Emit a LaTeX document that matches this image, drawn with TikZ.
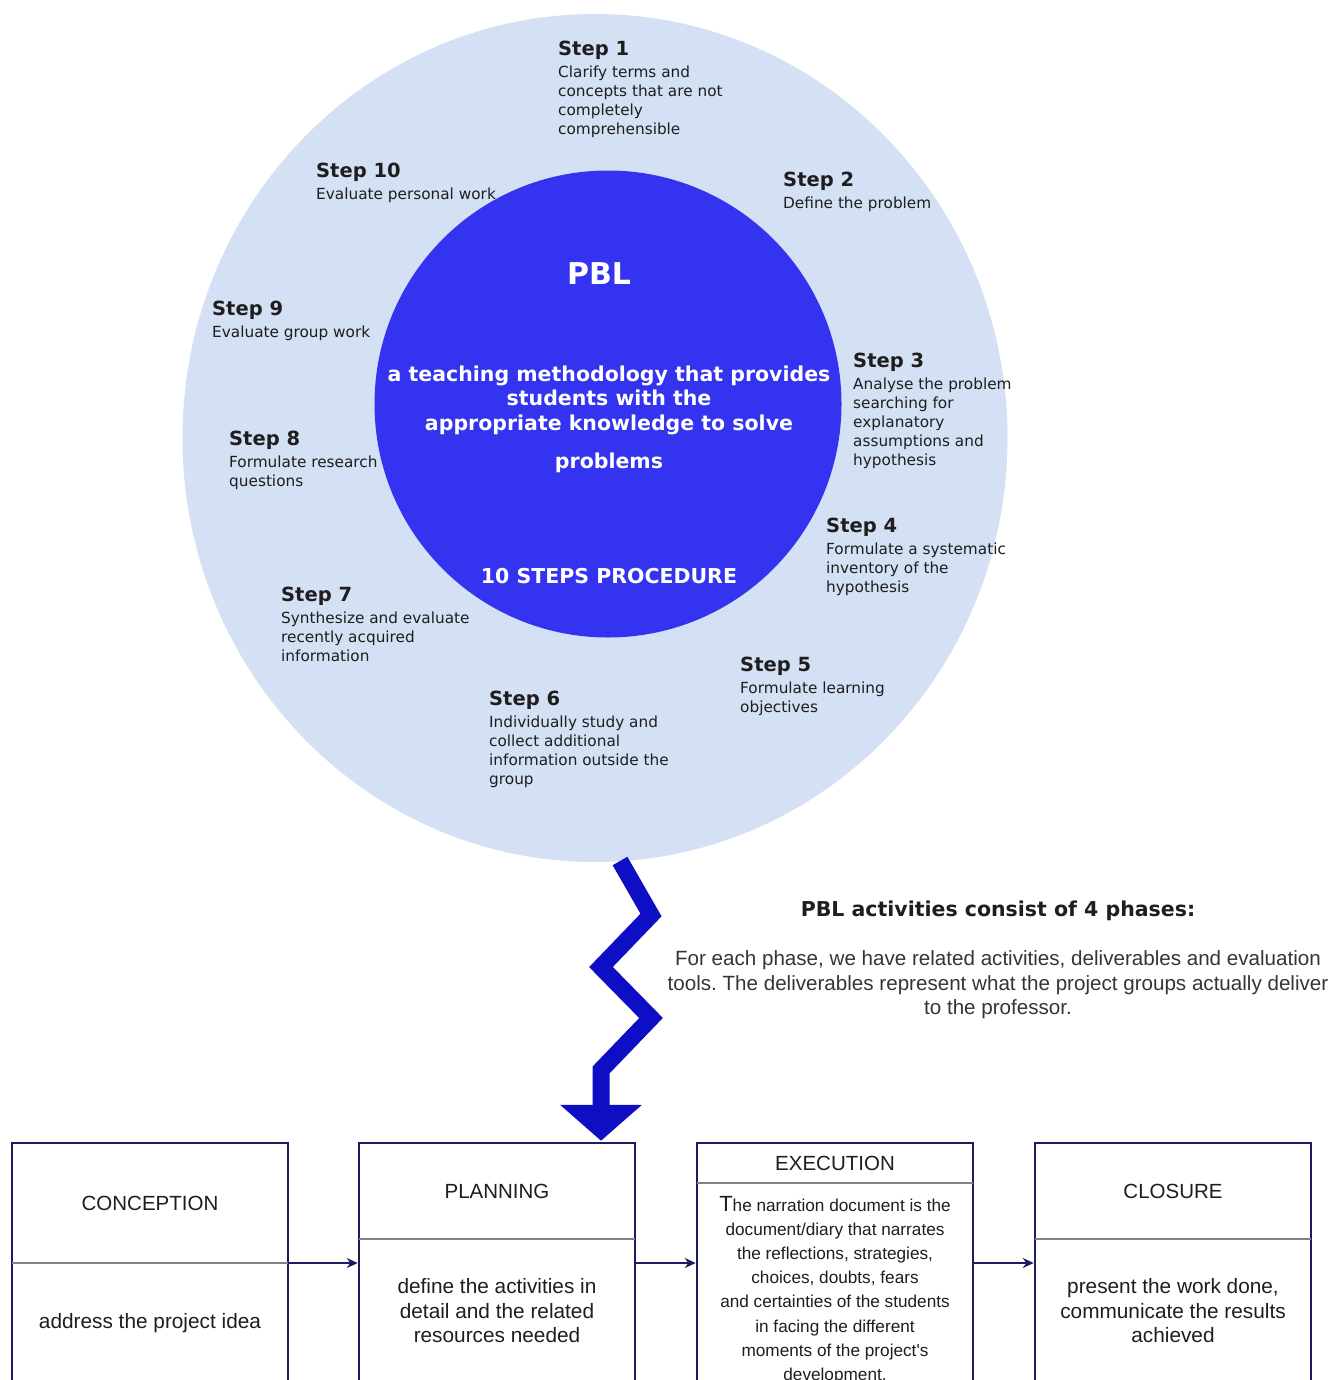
\documentclass[tikz,border=0pt]{standalone}
\usepackage{fontspec}
\newfontfamily\dvs{DejaVu Sans}
\newfontfamily\lib{Liberation Sans}
\usetikzlibrary{shapes.geometric,arrows.meta}
\definecolor{outerblue}{RGB}{212,224,244}
\definecolor{innerblue}{RGB}{52,52,240}
\definecolor{zigblue}{RGB}{14,14,196}
\definecolor{navy}{RGB}{28,28,96}
\definecolor{txt}{RGB}{30,30,30}
\definecolor{divgray}{RGB}{130,130,130}
\frenchspacing
\begin{document}
\begin{tikzpicture}[x=1pt,y=-1pt,
  stepnode/.style={anchor=north west, inner sep=0pt, align=left, text=txt,
    font=\dvs\fontsize{15.3}{19}\selectfont},
  ctrtext/.style={inner sep=0pt, align=center, text=white,
    font=\dvs\bfseries\fontsize{20.5}{24.5}\selectfont},
  phasebox/.style={draw=navy, line width=2.5pt, fill=white, minimum width=276pt, minimum height=240pt, inner sep=0pt},
  phtitle/.style={inner sep=0pt, text=txt, font=\lib\fontsize{20.5}{24}\selectfont},
  phbody/.style={inner sep=0pt, align=center, text=txt, font=\lib\fontsize{20.8}{24.5}\selectfont},
  execbody/.style={inner sep=0pt, align=center, text=txt, font=\lib\fontsize{17.2}{24.2}\selectfont},
  divider/.style={draw=divgray, line width=1.2pt},
  flow/.style={draw=navy, line width=2pt, -{Stealth[length=11pt,width=10pt]}},
  zig/.style={draw=zigblue, line width=17pt, line join=miter, -{Triangle[width=80pt,length=36pt]}},
  headtxt/.style={inner sep=0pt, text=txt, font=\dvs\bfseries\fontsize{20.5}{24}\selectfont},
  paratxt/.style={inner sep=0pt, align=center, text=txt!90, font=\lib\fontsize{20.6}{24.5}\selectfont}
]
\useasboundingbox (0,0) rectangle (1335,1380);
\clip (0,0) rectangle (1335,1380);
\fill[white] (0,0) rectangle (1335,1380);

% circles
\node[ellipse, fill=outerblue, minimum width=825pt, minimum height=848pt, inner sep=0pt] (outer) at (595,438) {};
\node[circle, fill=innerblue, minimum size=467pt, inner sep=0pt] (inner) at (608,404) {};

% center text
\node[ctrtext, font=\dvs\bfseries\fontsize{30}{34}\selectfont] (pbl) at (599,274) {PBL};
\node[ctrtext] (desc) at (609,400) {a teaching methodology that provides\\students with the\\appropriate knowledge to solve};
\node[ctrtext] (prob) at (609,463) {problems};
\node[ctrtext] (proc) at (609,576) {10 STEPS PROCEDURE};

% steps
\newcommand\sttl[1]{{\bfseries\fontsize{19.5}{19}\selectfont #1}\\[3pt]}
\node[stepnode] (s1) at (558,41) {\sttl{Step 1}Clarify terms and\\concepts that are not\\completely\\comprehensible};
\node[stepnode] (s2) at (783,172) {\sttl{Step 2}Define the problem};
\node[stepnode] (s3) at (853,353) {\sttl{Step 3}Analyse the problem\\searching for\\explanatory\\assumptions and\\hypothesis};
\node[stepnode] (s4) at (826,518) {\sttl{Step 4}Formulate a systematic\\inventory of the\\hypothesis};
\node[stepnode] (s5) at (740,657) {\sttl{Step 5}Formulate learning\\objectives};
\node[stepnode] (s6) at (489,691) {\sttl{Step 6}Individually study and\\collect additional\\information outside the\\group};
\node[stepnode] (s7) at (281,587) {\sttl{Step 7}Synthesize and evaluate\\recently acquired\\information};
\node[stepnode] (s8) at (229,431) {\sttl{Step 8}Formulate research\\questions};
\node[stepnode] (s9) at (212,301) {\sttl{Step 9}Evaluate group work};
\node[stepnode] (s10) at (316,163) {\sttl{Step 10}Evaluate personal work};

% phases text
\node[headtxt] (head) at (998,911) {PBL activities consist of 4 phases:};
\node[paratxt] (para) at (998,985) {For each phase, we have related activities, deliverables and evaluation\\tools. The deliverables represent what the project groups actually deliver\\to the professor.};

% boxes
\node[phasebox] (conc) at (150,1263) {};
\node[phasebox] (plan) at (497,1263) {};
\node[phasebox] (exec) at (835,1263) {};
\node[phasebox] (clos) at (1173,1263) {};

\draw[divider] ([xshift=1.25pt]conc.west) -- ([xshift=-1.25pt]conc.east);
\draw[divider] ([xshift=1.25pt,yshift=24pt]plan.west) -- ([xshift=-1.25pt,yshift=24pt]plan.east);
\draw[divider] ([xshift=1.25pt,yshift=80pt]exec.west) -- ([xshift=-1.25pt,yshift=80pt]exec.east);
\draw[divider] ([xshift=1.25pt,yshift=24pt]clos.west) -- ([xshift=-1.25pt,yshift=24pt]clos.east);

\node[phtitle] (concT) at (150,1203) {CONCEPTION};
\node[phtitle] (planT) at (497,1191) {PLANNING};
\node[phtitle] (execT) at (835,1163) {EXECUTION};
\node[phtitle] (closT) at (1173,1191) {CLOSURE};

\node[phbody] (concB) at (150,1323) {address the project idea};
\node[phbody] (planB) at (497,1311) {define the activities in\\detail and the related\\resources needed};
\node[execbody] (execB) at (835,1290) {{\fontsize{22}{24}\selectfont T}he narration document is the\\document/diary that narrates\\the reflections, strategies,\\choices, doubts, fears\\and certainties of the students\\in facing the different\\moments of the project's\\development.};
\node[phbody] (closB) at (1173,1311) {present the work done,\\communicate the results\\achieved};

\draw[flow] (conc) -- (plan);
\draw[flow] (plan) -- (exec);
\draw[flow] (exec) -- (clos);

% zigzag arrow
\coordinate (zzs) at (620,861);
\draw[zig] (zzs) -- (651,915) -- (601,967) -- (651,1018) -- (601,1070) -- ([xshift=104pt,yshift=1pt]plan.north);
\end{tikzpicture}
\end{document}
